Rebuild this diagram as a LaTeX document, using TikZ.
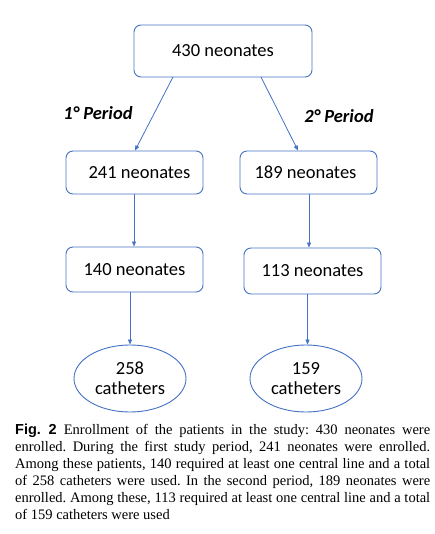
\documentclass[tikz,border=0pt]{standalone}
\usepackage{fontspec}
\setmainfont{Liberation Serif}
\newfontfamily\boxfont{Carlito}
\newfontfamily\figfont{Liberation Sans}
\usetikzlibrary{shapes.geometric,arrows.meta}
\definecolor{lineblue}{HTML}{4472C4}
\begin{document}
\begin{tikzpicture}[x=1pt,y=-1pt,
  box/.style={draw=lineblue,line width=0.9pt,rounded corners=7pt,font=\boxfont\fontsize{18.5}{20}\selectfont,inner sep=0pt,align=center},
  oval/.style={draw=lineblue,line width=0.9pt,ellipse,inner sep=0pt,font=\boxfont\fontsize{18.5}{20}\selectfont,align=center},
  conn/.style={draw=lineblue,line width=0.8pt,-{Triangle[length=5pt,width=4pt]}},
  period/.style={font=\boxfont\bfseries\itshape\fontsize{18.5}{20}\selectfont}]
\useasboundingbox (0,0) rectangle (435,534);
\fill[white] (0,0) rectangle (435,534);
\node[box,minimum width=178pt,minimum height=52pt] (top) at (223,51) {430 neonates};
\node[box,minimum width=137pt,minimum height=43pt] (a1) at (134.5,172.5) {\hspace{10pt}241 neonates};
\node[box,minimum width=137pt,minimum height=43pt] (b1) at (308.5,172.5) {189 neonates\hspace{6pt}};
\node[box,minimum width=137pt,minimum height=45pt] (a2) at (134.5,269.5) {140 neonates};
\node[box,minimum width=137pt,minimum height=46pt] (b2) at (312.5,271) {113 neonates};
\node[oval,minimum width=112pt,minimum height=67pt] (a3) at (130,378.5) {258\\catheters};
\node[oval,minimum width=112pt,minimum height=67pt] (b3) at (306,378.5) {159\\catheters};
\node[period] (p1) at (98,113) {1° Period};
\node[period] (p2) at (339,116) {2° Period};
\coordinate (t1) at (173,77);
\coordinate (t2) at (261,77);
\draw[conn] (t1) -- (a1.north -| 135,0);
\draw[conn] (t2) -- (b1.north -| 298,0);
\draw[conn] (a1.south -| 134,0) -- (a2.north -| 134,0);
\draw[conn] (b1.south -| 309,0) -- (b2.north -| 309,0);
\draw[conn] (a2.south -| 130,0) -- (a3.north);
\draw[conn] (b2.south -| 307.5,0) -- (b3.north -| 307.5,0);
\node[anchor=north west,inner sep=0pt,text width=415pt,align=justify,font=\fontsize{14.5}{17}\selectfont] (cap) at (15,424)
{\frenchspacing\hyphenpenalty=10000{\figfont\bfseries Fig. 2}\hspace{0.5em}Enrollment of the patients in the study: 430 neonates were\linebreak enrolled. During the first study period, 241 neonates were enrolled.\linebreak Among these patients, 140 required at least one central line and a total\linebreak of 258 catheters were used. In the second period, 189 neonates were\linebreak enrolled. Among these, 113 required at least one central line and a total\linebreak of 159 catheters were used};
\end{tikzpicture}
\end{document}
